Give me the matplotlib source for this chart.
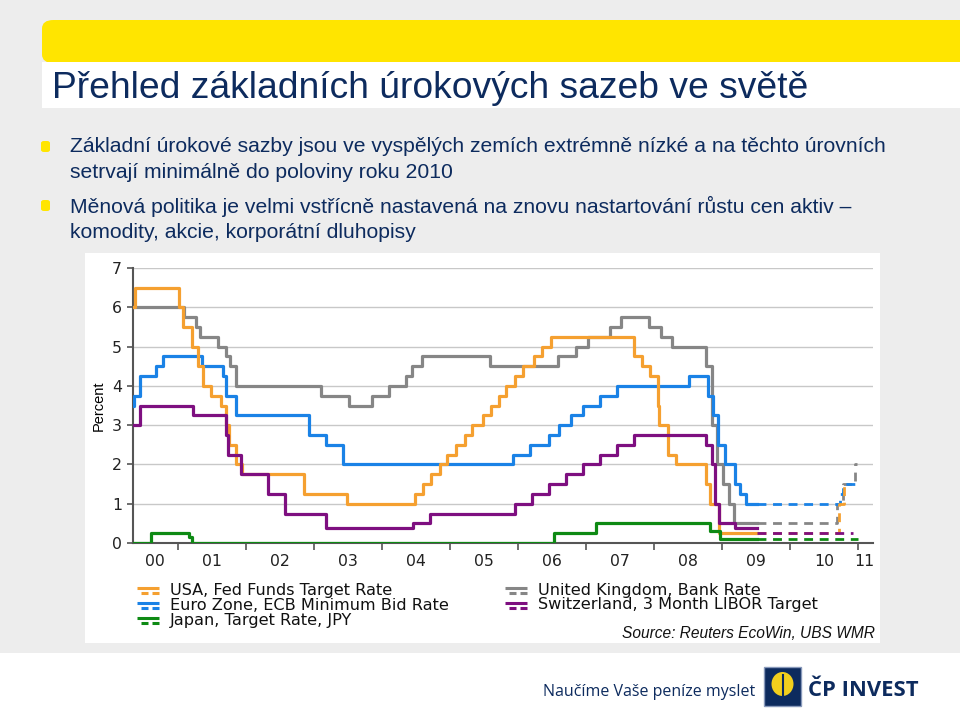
import matplotlib as mpl
mpl.use('Agg')
import matplotlib.pyplot as plt
from matplotlib.patches import FancyBboxPatch, Rectangle, Ellipse
from matplotlib.lines import Line2D

# --- data: change dates (decimal year) and rate after the change ---
usa_x = [2000.34, 2000.37, 2001.01, 2001.08, 2001.21, 2001.29, 2001.37, 2001.49, 2001.64,
         2001.71, 2001.75, 2001.85, 2001.94, 2002.85, 2003.48, 2004.49, 2004.61, 2004.72,
         2004.86, 2004.95, 2005.09, 2005.22, 2005.33, 2005.49, 2005.60, 2005.72, 2005.83,
         2005.95, 2006.08, 2006.24, 2006.36, 2006.49, 2007.71, 2007.83, 2007.94, 2008.06,
         2008.08, 2008.21, 2008.33, 2008.77, 2008.82, 2008.96, 2009.51]
usa_y = [6.0, 6.5, 6.0, 5.5, 5.0, 4.5, 4.0, 3.75, 3.5,
         3.0, 2.5, 2.0, 1.75, 1.25, 1.0, 1.25, 1.5, 1.75,
         2.0, 2.25, 2.5, 2.75, 3.0, 3.25, 3.5, 3.75, 4.0,
         4.25, 4.5, 4.75, 5.0, 5.25, 4.75, 4.5, 4.25, 3.5,
         3.0, 2.25, 2.0, 1.5, 1.0, 0.25, 0.25]
usa_fx = [2009.51, 2010.72, 2010.80, 2010.85]
usa_fy = [0.25, 1.0, 1.5, 1.5]

ecb_x = [2000.34, 2000.36, 2000.44, 2000.68, 2000.78, 2001.36, 2001.66, 2001.71, 2001.86,
         2002.93, 2003.18, 2003.43, 2005.93, 2006.18, 2006.45, 2006.60, 2006.78, 2006.95,
         2007.20, 2007.45, 2008.52, 2008.79, 2008.87, 2008.94, 2009.05, 2009.19, 2009.27,
         2009.36, 2009.51]
ecb_y = [3.5, 3.75, 4.25, 4.5, 4.75, 4.5, 4.25, 3.75, 3.25,
         2.75, 2.5, 2.0, 2.25, 2.5, 2.75, 3.0, 3.25, 3.5,
         3.75, 4.0, 4.25, 3.75, 3.25, 2.5, 2.0, 1.5, 1.25,
         1.0, 1.0]
ecb_fx = [2009.51, 2010.74, 2010.78, 2011.0]
ecb_fy = [1.0, 1.25, 1.5, 1.5]

jpn_x = [2000.34, 2000.61, 2001.17, 2001.21, 2006.53, 2007.14, 2008.83, 2008.97, 2009.51]
jpn_y = [0.0, 0.25, 0.15, 0.0, 0.25, 0.5, 0.3, 0.1, 0.1]
jpn_fx = [2009.51, 2011.0]
jpn_fy = [0.1, 0.1]

uk_x = [2000.34, 2001.09, 2001.26, 2001.33, 2001.59, 2001.71, 2001.76, 2001.86, 2003.10,
        2003.52, 2003.85, 2004.10, 2004.35, 2004.44, 2004.59, 2005.59, 2006.59, 2006.86,
        2007.03, 2007.36, 2007.51, 2007.93, 2008.10, 2008.27, 2008.77, 2008.85, 2008.93,
        2009.02, 2009.10, 2009.18, 2009.51]
uk_y = [6.0, 5.75, 5.5, 5.25, 5.0, 4.75, 4.5, 4.0, 3.75,
        3.5, 3.75, 4.0, 4.25, 4.5, 4.75, 4.5, 4.75, 5.0,
        5.25, 5.5, 5.75, 5.5, 5.25, 5.0, 4.5, 3.0, 2.0,
        1.5, 1.0, 0.5, 0.5]
uk_fx = [2009.51, 2010.69, 2010.78, 2010.95, 2010.98]
uk_fy = [0.5, 1.0, 1.5, 2.0, 2.0]

chf_x = [2000.34, 2000.45, 2001.22, 2001.71, 2001.73, 2001.93, 2002.33, 2002.57, 2003.18,
         2004.46, 2004.71, 2005.96, 2006.21, 2006.46, 2006.70, 2006.95, 2007.20, 2007.45,
         2007.70, 2008.77, 2008.85, 2008.89, 2008.95, 2009.19, 2009.51]
chf_y = [3.0, 3.5, 3.25, 2.75, 2.25, 1.75, 1.25, 0.75, 0.375,
         0.5, 0.75, 1.0, 1.25, 1.5, 1.75, 2.0, 2.25, 2.5,
         2.75, 2.5, 2.0, 1.0, 0.5, 0.375, 0.375]
chf_fx = [2009.51, 2010.92]
chf_fy = [0.25, 0.25]

labels = ['USA, Fed Funds Target Rate', 'Euro Zone, ECB Minimum Bid Rate',
          'Japan, Target Rate, JPY', 'United Kingdom, Bank Rate',
          'Switzerland, 3 Month LIBOR Target']
year_labels = ['00', '01', '02', '03', '04', '05', '06', '07', '08', '09', '10', '11']

c_usa = '#F5A030'
c_ecb = '#1A82E6'
c_jpn = '#0E8A14'
c_uk = '#868686'
c_chf = '#7E0F80'
navy = '#0D2B5E'

fig = plt.figure(figsize=(9.6, 7.1), dpi=100)
fig.patch.set_facecolor('#EDEDED')

def fx(px):
    return px / 960

def fy(py):
    return 1 - py / 710

# header bands
fig.patches.append(FancyBboxPatch((fx(42), fy(63)), fx(960) - fx(42) + 0.02, fy(20) - fy(63),
                                  boxstyle='round,pad=0,rounding_size=0.012',
                                  transform=fig.transFigure, fc='#FFE500', ec='none'))
fig.patches.append(Rectangle((fx(42), fy(108)), 1, fy(63) - fy(108) + 0.002,
                             transform=fig.transFigure, fc='white', ec='none'))
fig.text(fx(52), fy(89), 'Přehled základních úrokových sazeb ve světě', fontsize=26.8,
         color=navy, family='Liberation Sans', va='center')

# bullets
for by in [146, 205]:
    fig.patches.append(FancyBboxPatch((fx(41), fy(by + 6)), fx(9), 11 / 710,
                                      boxstyle='round,pad=0,rounding_size=0.003',
                                      transform=fig.transFigure, fc='#FFE500', ec='none'))
bullet_lines = [(146, 'Základní úrokové sazby jsou ve vyspělých zemích extrémně nízké a na těchto úrovních'),
                (172, 'setrvají minimálně do poloviny roku 2010'),
                (206, 'Měnová politika je velmi vstřícně nastavená na znovu nastartování růstu cen aktiv –'),
                (232, 'komodity, akcie, korporátní dluhopisy')]
for ly, txt in bullet_lines:
    fig.text(fx(70), fy(ly), txt, fontsize=15.2, color=navy, family='Liberation Sans', va='center')

# white chart panel
fig.patches.append(Rectangle((fx(85), fy(643)), fx(795), 390 / 710,
                             transform=fig.transFigure, fc='white', ec='none'))
# white footer
fig.patches.append(Rectangle((0, 0), 1, fy(653), transform=fig.transFigure, fc='white', ec='none'))

ax = fig.add_axes([fx(133), fy(543), fx(873) - fx(133), fy(268) - fy(543)])
ax.set_zorder(3)
ax.patch.set_alpha(0)

series = [(uk_x, uk_y, uk_fx, uk_fy, c_uk),
          (ecb_x, ecb_y, ecb_fx, ecb_fy, c_ecb),
          (usa_x, usa_y, usa_fx, usa_fy, c_usa),
          (chf_x, chf_y, chf_fx, chf_fy, c_chf),
          (jpn_x, jpn_y, jpn_fx, jpn_fy, c_jpn)]
for sx, sy, sfx, sfy, col in series:
    ax.step(sx, sy, where='post', color=col, lw=2.3, zorder=3)
    ax.step(sfx, sfy, where='post', color=col, lw=2.0, ls=(0, (3.2, 2.4)), zorder=3)

ax.set_xlim(2000.34, 2011.22)
ax.set_ylim(0, 7)
ax.set_yticks(range(0, 8))
ax.yaxis.grid(True, color='#C8C8C8', lw=1)
ax.set_axisbelow(True)
for s in ['top', 'right']:
    ax.spines[s].set_visible(False)
for s in ['left', 'bottom']:
    ax.spines[s].set_color('#555555')
    ax.spines[s].set_linewidth(1.5)
ax.tick_params(axis='y', length=4, width=1.2, color='#555555', labelsize=11.3, pad=4)
ax.set_xticks(range(2001, 2012))
ax.set_xticklabels([])
ax.tick_params(axis='x', which='major', length=5, width=1.2, color='#555555')
ax.set_xticks([2000.66] + [y + 0.5 for y in range(2001, 2011)] + [2011.1], minor=True)
ax.set_xticklabels(year_labels, minor=True)
ax.tick_params(axis='x', which='minor', length=0, labelsize=11.3, pad=8)
for t in ax.get_xticklabels(minor=True) + ax.get_yticklabels():
    t.set_family('DejaVu Sans')
    t.set_color('#222222')
ax.set_ylabel('Percent', fontsize=10.5, family=['Liberation Sans Narrow', 'Liberation Sans'], labelpad=4)

# legend
cols = [c_usa, c_ecb, c_jpn, c_uk, c_chf]
pos = [(137, 590), (137, 605), (137, 620), (505, 590), (505, 605)]
for (lx, ly), col, lab in zip(pos, cols, labels):
    fig.lines.append(Line2D([fx(lx), fx(lx + 22)], [fy(ly - 2.5), fy(ly - 2.5)], transform=fig.transFigure,
                            color=col, lw=2.2, solid_capstyle='butt'))
    fig.lines.append(Line2D([fx(lx + 4), fx(lx + 11)], [fy(ly + 3), fy(ly + 3)], transform=fig.transFigure,
                            color=col, lw=2.2, solid_capstyle='butt'))
    fig.lines.append(Line2D([fx(lx + 15), fx(lx + 22)], [fy(ly + 3), fy(ly + 3)], transform=fig.transFigure,
                            color=col, lw=2.2, solid_capstyle='butt'))
    fig.text(fx(lx + 33), fy(ly), lab, fontsize=11.6, family='DejaVu Sans', va='center', color='#111111')
fig.text(fx(875), fy(633), 'Source: Reuters EcoWin, UBS WMR', fontsize=11.2, style='italic',
         family='Liberation Sans', ha='right', va='center', color='#111111')

# footer
fig.text(fx(543), fy(692), 'Naučíme Vaše peníze myslet', fontsize=11.5, color=navy,
         family='Open Sans', va='center')
fig.patches.append(Rectangle((fx(764), fy(706)), fx(37), 39 / 710, transform=fig.transFigure,
                             fc=navy, ec='#8899BB', lw=1))
fig.patches.append(Ellipse((fx(782.5), fy(684)), fx(22), 24 / 710, transform=fig.transFigure,
                           fc='#F2CF1D', ec='none'))
fig.lines.append(Line2D([fx(782.5), fx(782.5)], [fy(675), fy(702)], transform=fig.transFigure,
                        color=navy, lw=1.5))
fig.text(fx(808), fy(690), 'ČP INVEST', fontsize=15.8, fontweight='bold', color=navy,
         family='Open Sans', va='center')

fig.savefig('out.png', dpi=100, facecolor=fig.get_facecolor())
